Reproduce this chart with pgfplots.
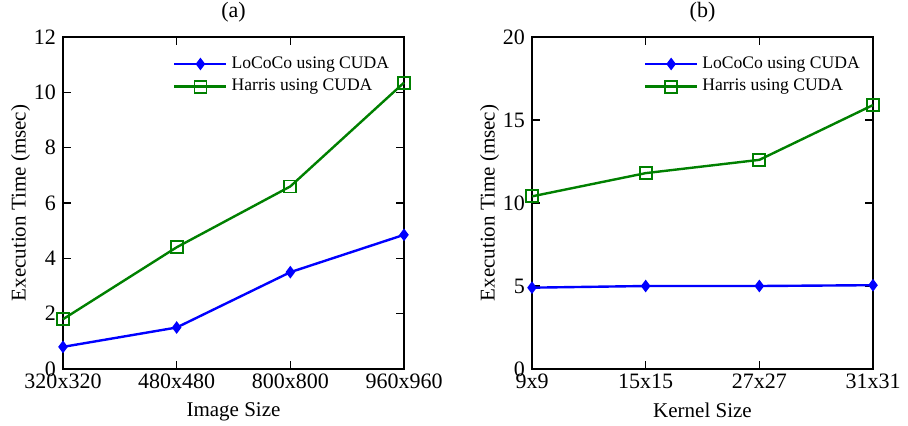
\documentclass[border=0pt]{standalone}
\usepackage{pgfplots}
\pgfplotsset{compat=1.18}
\usepackage{fontspec}
\setmainfont{Liberation Serif}

\definecolor{mblue}{RGB}{0,0,255}
\definecolor{mgreen}{RGB}{0,128,0}

\pgfplotsset{
  mstyle/.style={
    scale only axis,
    width=170.5pt, height=166pt,
    clip=false,
    axis line style={line width=1.2pt},
    tick style={line width=0.8pt, black},
    tick align=inside,
    major tick length=4pt,
    xtick pos=both, ytick pos=both,
    xmin=0, xmax=3, xtick={0,1,2,3},
    ymin=0,
    /pgf/number format/assume math mode=true,
    tick label style={font=\fontsize{11}{12}\selectfont},
    label style={font=\fontsize{10.5}{12}\selectfont},
    legend style={draw=none, fill=none, font=\fontsize{8.8}{10}\selectfont,
      anchor=north east, row sep=0pt, inner sep=1pt},
    legend cell align=left,
    legend image code/.code={
      \draw[mark repeat=2, mark phase=2] plot coordinates {(0pt,0pt) (13pt,0pt) (26pt,0pt)};
    },
    x tick label style={yshift=1pt},
    xlabel style={yshift=0pt},
    ylabel style={yshift=-5pt},
  },
  loco/.style={color=mblue, line width=1.2pt, mark=diamond*, mark size=2.2pt, mark options={solid}},
  harr/.style={color=mgreen, line width=1.2pt, mark=square, mark size=3pt, mark options={solid, line width=0.9pt}},
}

\begin{document}
\begin{tikzpicture}
\path (0,0) rectangle (454pt,212.5pt);

\begin{axis}[mstyle, at={(31.5pt,28pt)}, anchor=south west,
  ymax=12, ytick={0,2,4,6,8,10,12},
  xticklabels={320x320,480x480,800x800,960x960},
  xlabel={Image Size}, ylabel={Execution Time (msec)},
  legend style={at={(0.975,0.96)}},
]
\addplot[loco] coordinates {(0,0.8) (1,1.5) (2,3.5) (3,4.85)};
\addplot[harr] coordinates {(0,1.8) (1,4.4) (2,6.6) (3,10.35)};
\legend{LoCoCo using CUDA, Harris using CUDA}
\node[anchor=south, font=\fontsize{11}{12}\selectfont, yshift=4pt] at (rel axis cs:0.5,1) {(a)};
\end{axis}

\begin{axis}[mstyle, at={(266pt,28pt)}, anchor=south west,
  ymax=20, ytick={0,5,10,15,20},
  xticklabels={9x9,15x15,27x27,31x31},
  xlabel={Kernel Size}, ylabel={Execution Time (msec)},
  legend style={at={(0.98,0.96)}},
]
\addplot[loco] coordinates {(0,4.9) (1,5.0) (2,5.0) (3,5.05)};
\addplot[harr] coordinates {(0,10.4) (1,11.8) (2,12.6) (3,15.9)};
\legend{LoCoCo using CUDA, Harris using CUDA}
\node[anchor=south, font=\fontsize{11}{12}\selectfont, yshift=4pt] at (rel axis cs:0.5,1) {(b)};
\end{axis}

\pgfresetboundingbox
\useasboundingbox (0,0) rectangle (454pt,212.5pt);
\end{tikzpicture}
\end{document}
